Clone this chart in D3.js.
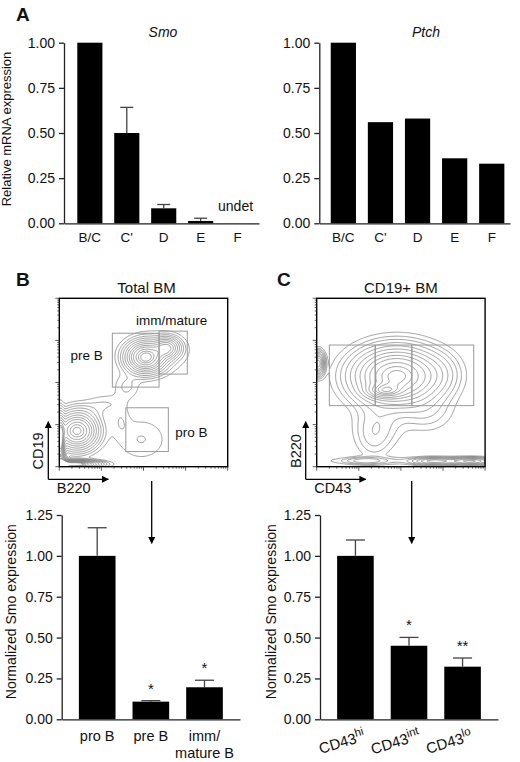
<!DOCTYPE html>
<html>
<head>
<meta charset="utf-8">
<title>Smo / Ptch expression in B cell subsets</title>
<script src="https://d3js.org/d3.v7.min.js"></script>
<style>
  body { margin: 0; background: #fff; }
  svg text { font-family: "Liberation Sans", Arial, Helvetica, sans-serif; fill: #111; }
</style>
</head>
<body>
<div id="figure"></div>
<script>
// ---- panel A: qPCR, Hardy fractions ----
const stages = ["B/C", "C'", "D", "E", "F"];
const smoValues = [1.0, 0.50, 0.083, 0.013, null];   // F = undetected
const smoErrors = [0, 0.142, 0.021, 0.015, null];
const ptchValues = [1.0, 0.56, 0.58, 0.36, 0.33];
const relTicks = [0, 0.25, 0.5, 0.75, 1.0];

// ---- panel B / C bottom: sorted populations ----
const bPops = ["pro B", "pre B", "imm/mature B"];
const bLabelLines = [["pro B"], ["pre B"], ["imm/", "mature B"]];
const bValues = [1.0, 0.108, 0.196];
const bErrors = [0.172, 0.006, 0.043];
const bStars = ["", "*", "*"];

const cPops = ["hi", "int", "lo"];
const cValues = [1.0, 0.45, 0.322];
const cErrors = [0.097, 0.051, 0.053];
const cStars = ["", "*", "**"];
const normTicks = [0, 0.25, 0.5, 0.75, 1.0, 1.25];

// ---- flow plots: populations as (log decade) centre / spread / weight ----
const bClusterX  = [0.42, 2.05, 2.55, 0.03, 0.35, 0.06, 0.6, 1.1, 1.6, 1.95, 1.45, 2.3];
const bClusterY  = [0.85, 2.60, 2.82, 0.60, 0.06, 0.06, 1.3, 1.5, 1.9, 0.65, 1.1, 2.7];
const bClusterSX = [0.27, 0.25, 0.18, 0.05, 0.33, 0.08, 0.3, 0.3, 0.2, 0.42, 0.15, 0.5];
const bClusterSY = [0.24, 0.20, 0.14, 0.35, 0.05, 0.08, 0.15, 0.15, 0.2, 0.35, 0.25, 0.32];
const bClusterW  = [1.0, 1.0, 0.55, 1.0, 1.2, 1.5, 0.04, 0.04, 0.05, 0.045, 0.035, 0.06];

const cClusterX  = [1.9, 1.6, 2.9, 1.45, 2.6, 1.35, 0.04, 1.15, 2.8, 3.65, 2.0];
const cClusterY  = [2.15, 1.8, 2.2, 1.0, 1.3, 0.65, 2.45, 0.14, 0.13, 0.13, 0.14];
const cClusterSX = [0.58, 0.25, 0.3, 0.35, 0.4, 0.25, 0.08, 0.3, 0.3, 0.3, 1.4];
const cClusterSY = [0.38, 0.1, 0.3, 0.35, 0.3, 0.3, 0.15, 0.05, 0.05, 0.05, 0.06];
const cClusterW  = [1.0, 0.5, 0.07, 0.08, 0.06, 0.05, 0.8, 0.12, 0.35, 0.45, 0.04];

const bLevels = [0.0228, 0.0439, 0.071, 0.110, 0.165, 0.236, 0.325, 0.43, 0.546, 0.697, 0.835, 0.94];
const cLevels = [0.0228, 0.0439, 0.071, 0.110, 0.165, 0.236, 0.325, 0.43, 0.546, 0.697, 0.835, 0.94, 1.06, 1.2, 1.35];

// gates, in decades [x0, x1, y0, y1]
const bGates = [[1.26, 2.37, 1.89, 3.17], [2.37, 3.04, 2.20, 3.22], [1.58, 2.59, 0.36, 1.40]];
const bGateNames = ["pre B", "imm/mature", "pro B"];
const bGateLabelPos = [[0.65, 2.53], [2.67, 3.37], [3.14, 0.71]];
const cGates = [[0.30, 1.39, 1.45, 2.89], [1.39, 2.26, 1.45, 2.89], [2.26, 3.73, 1.45, 2.89]];

const svg = d3.select("#figure").append("svg")
    .attr("width", 520)
    .attr("height", 762);

const AXIS = "#222";

svg.append("defs").append("marker")
    .attr("id", "head")
    .attr("viewBox", "0 0 10 10")
    .attr("refX", 9).attr("refY", 5)
    .attr("markerWidth", 7).attr("markerHeight", 7)
    .attr("markerUnits", "userSpaceOnUse")
    .attr("orient", "auto")
  .append("path")
    .attr("d", "M0,0 L10,5 L0,10 Z")
    .attr("fill", "#000");

function barPanel(opt) {
    const x = d3.scaleBand().domain(opt.cats).range(opt.xRange)
        .paddingInner(opt.padIn).paddingOuter(opt.padOut).align(opt.align);
    const y = d3.scaleLinear().domain(opt.yDomain).range(opt.yRange);
    const g = svg.append("g");

    const rows = opt.cats.map((c, i) => ({c, v: opt.values[i], e: opt.errors ? opt.errors[i] : null}))
        .filter(d => d.v != null);

    g.selectAll("rect.bar").data(rows).join("rect")
        .attr("class", "bar")
        .attr("x", d => x(d.c))
        .attr("width", x.bandwidth())
        .attr("y", d => y(d.v))
        .attr("height", d => y(0) - y(d.v))
        .attr("fill", "#000");

    // upper error bars only
    const eb = rows.filter(d => d.e);
    g.selectAll("line.err").data(eb).join("line")
        .attr("class", "err")
        .attr("x1", d => x(d.c) + x.bandwidth() / 2)
        .attr("x2", d => x(d.c) + x.bandwidth() / 2)
        .attr("y1", d => y(d.v))
        .attr("y2", d => y(d.v + d.e))
        .attr("stroke", "#444").attr("stroke-width", 1.3);
    g.selectAll("line.cap").data(eb).join("line")
        .attr("class", "cap")
        .attr("x1", d => x(d.c) + x.bandwidth() / 2 - opt.cap / 2)
        .attr("x2", d => x(d.c) + x.bandwidth() / 2 + opt.cap / 2)
        .attr("y1", d => y(d.v + d.e))
        .attr("y2", d => y(d.v + d.e))
        .attr("stroke", "#444").attr("stroke-width", 1.3);

    const ya = g.append("g")
        .attr("transform", `translate(${opt.xRange[0]},0)`)
        .call(d3.axisLeft(y).tickValues(opt.ticks).tickFormat(d3.format(".2f"))
            .tickSize(5).tickPadding(4).tickSizeOuter(0));
    ya.selectAll("path, line").attr("stroke", AXIS).attr("stroke-width", 1.3);
    ya.selectAll("text").style("font-size", "14px").attr("fill", "#111");

    const xa = g.append("g")
        .attr("transform", `translate(0,${opt.yRange[0]})`)
        .call(d3.axisBottom(x).tickSize(0).tickSizeOuter(0).tickFormat(() => ""));
    xa.select(".domain").attr("stroke", AXIS).attr("stroke-width", 1.3);

    return {x, y, g};
}

// ---------- panel A ----------
const smo = barPanel({cats: stages, values: smoValues, errors: smoErrors,
    xRange: [64, 259], padIn: 0.32, padOut: 0.3, align: 0.6,
    yDomain: [0, 1], yRange: [223.3, 42.7], ticks: relTicks, cap: 13});
const ptch = barPanel({cats: stages, values: ptchValues, errors: null,
    xRange: [319.3, 510], padIn: 0.32, padOut: 0.23, align: 0.67,
    yDomain: [0, 1], yRange: [223.3, 42.7], ticks: relTicks, cap: 13});

[smo, ptch].forEach(p => {
    p.g.selectAll("text.xl").data(stages).join("text")
        .attr("class", "xl")
        .attr("x", d => p.x(d) + p.x.bandwidth() / 2)
        .attr("y", 241.5)
        .attr("text-anchor", "middle")
        .style("font-size", "13.5px")
        .text(d => d);
});

smo.g.append("text")
    .attr("x", smo.x("F") + smo.x.bandwidth() / 2 - 2)
    .attr("y", 210.7)
    .attr("text-anchor", "middle")
    .style("font-size", "14px")
    .text("undet");

svg.append("text").attr("x", 163).attr("y", 36.5).attr("text-anchor", "middle")
    .style("font-size", "14px").style("font-style", "italic").text("Smo");
svg.append("text").attr("x", 426).attr("y", 36.5).attr("text-anchor", "middle")
    .style("font-size", "14px").style("font-style", "italic").text("Ptch");
svg.append("text")
    .attr("transform", "translate(11,129) rotate(-90)")
    .attr("text-anchor", "middle")
    .style("font-size", "13px")
    .text("Relative mRNA expression");

// panel letters
[["A", 16, 20.7], ["B", 16, 286], ["C", 277, 286]].forEach(([t, x, y]) => {
    svg.append("text").attr("x", x).attr("y", y)
        .style("font-size", "19px").style("font-weight", "bold").text(t);
});

// ---------- flow plots ----------
function flowPanel(opt) {
    const size = 168.4;
    const x = d3.scaleLinear().domain([0, 4]).range([opt.left, opt.left + size]);
    const y = d3.scaleLinear().domain([0, 4]).range([opt.bottom, opt.bottom - size]);
    const g = svg.append("g");

    const n = 160;
    const grid = new Float64Array(n * n);
    for (let j = 0; j < n; j++) {
        const dy = (j + 0.5) / n * 4;
        for (let i = 0; i < n; i++) {
            const dx = (i + 0.5) / n * 4;
            let s = 0;
            for (let k = 0; k < opt.cx.length; k++) {
                const u = (dx - opt.cx[k]) / opt.sx[k];
                const v = (dy - opt.cy[k]) / opt.sy[k];
                s += opt.w[k] * Math.exp(-0.5 * (u * u + v * v));
            }
            grid[j * n + i] = s;
        }
    }
    const contours = d3.contours().size([n, n]).thresholds(opt.levels)(grid);
    const proj = d3.geoTransform({
        point(px, py) { this.stream.point(x(px / n * 4), y(py / n * 4)); }
    });
    const path = d3.geoPath(proj);

    const clipId = "clip" + opt.id;
    svg.select("defs").append("clipPath").attr("id", clipId)
        .append("rect").attr("x", x(0)).attr("y", y(4)).attr("width", size).attr("height", size);

    g.append("g").attr("clip-path", `url(#${clipId})`)
      .selectAll("path").data(contours).join("path")
        .attr("d", path)
        .attr("fill", "none")
        .attr("stroke", "#7a7a7a")
        .attr("stroke-width", 0.7);

    g.selectAll("rect.gate").data(opt.gates).join("rect")
        .attr("class", "gate")
        .attr("x", d => x(d[0])).attr("width", d => x(d[1]) - x(d[0]))
        .attr("y", d => y(d[3])).attr("height", d => y(d[2]) - y(d[3]))
        .attr("fill", "none").attr("stroke", "#9a9a9a").attr("stroke-width", 1);

    g.append("rect")
        .attr("x", x(0)).attr("y", y(4)).attr("width", size).attr("height", size)
        .attr("fill", "none").attr("stroke", "#000").attr("stroke-width", 1.4);

    // log ticks, outward
    const tickVals = [];
    for (let d = 0; d < 4; d++) {
        tickVals.push({v: d, major: true});
        for (let m = 2; m <= 9; m++) tickVals.push({v: d + Math.log10(m), major: false});
    }
    tickVals.push({v: 4, major: true});
    g.selectAll("line.lt").data(tickVals).join("line")
        .attr("x1", x(0)).attr("x2", d => x(0) - (d.major ? 4 : 2))
        .attr("y1", d => y(d.v)).attr("y2", d => y(d.v))
        .attr("stroke", "#333").attr("stroke-width", 0.8);
    g.selectAll("line.bt").data(tickVals).join("line")
        .attr("y1", y(0)).attr("y2", d => y(0) + (d.major ? 4 : 2))
        .attr("x1", d => x(d.v)).attr("x2", d => x(d.v))
        .attr("stroke", "#333").attr("stroke-width", 0.8);

    // axis arrows
    const ax = x(0) - 11;
    g.append("line").attr("x1", ax).attr("y1", 479.3).attr("x2", ax).attr("y2", 421.7)
        .attr("stroke", "#000").attr("stroke-width", 1.3).attr("marker-end", "url(#head)");
    g.append("line").attr("x1", ax).attr("y1", 479.3).attr("x2", ax + 60).attr("y2", 479.3)
        .attr("stroke", "#000").attr("stroke-width", 1.3).attr("marker-end", "url(#head)");
    g.append("text").attr("transform", `translate(${ax - 5},451) rotate(-90)`)
        .attr("text-anchor", "middle").style("font-size", "14.5px").text(opt.yLabel);
    g.append("text").attr("x", ax + 8.5).attr("y", 493.3)
        .style("font-size", "14.5px").text(opt.xLabel);

    g.append("text").attr("x", x(2) + opt.titleDx).attr("y", 292.5).attr("text-anchor", "middle")
        .style("font-size", "15px").text(opt.title);
    return {x, y, g};
}

const flowB = flowPanel({id: "B", left: 59.3, bottom: 466.7,
    cx: bClusterX, cy: bClusterY, sx: bClusterSX, sy: bClusterSY, w: bClusterW,
    levels: bLevels, gates: bGates, title: "Total BM", titleDx: 3,
    yLabel: "CD19", xLabel: "B220"});
flowB.g.selectAll("text.gl").data(bGateNames).join("text")
    .attr("class", "gl")
    .attr("x", (d, i) => flowB.x(bGateLabelPos[i][0]))
    .attr("y", (d, i) => flowB.y(bGateLabelPos[i][1]))
    .attr("text-anchor", "middle")
    .style("font-size", "13.5px")
    .text(d => d);

const flowC = flowPanel({id: "C", left: 316.7, bottom: 466.7,
    cx: cClusterX, cy: cClusterY, sx: cClusterSX, sy: cClusterSY, w: cClusterW,
    levels: cLevels, gates: cGates, title: "CD19+ BM", titleDx: 0,
    yLabel: "B220", xLabel: "CD43"});

// arrows between flow plots and bar charts
[151.7, 411.7].forEach(ax => {
    svg.append("line").attr("x1", ax).attr("y1", 481).attr("x2", ax).attr("y2", 543.3)
        .attr("stroke", "#000").attr("stroke-width", 1.3).attr("marker-end", "url(#head)");
});

// ---------- bottom bar charts ----------
const barB = barPanel({cats: bPops, values: bValues, errors: bErrors,
    xRange: [61.7, 240], padIn: 0.317, padOut: 0.32, align: 0.5,
    yDomain: [0, 1.25], yRange: [719.3, 515], ticks: normTicks, cap: 19});
const barC = barPanel({cats: cPops, values: cValues, errors: cErrors,
    xRange: [320, 498], padIn: 0.317, padOut: 0.32, align: 0.5,
    yDomain: [0, 1.25], yRange: [719.3, 515], ticks: normTicks, cap: 19});

[[barB, bPops, bValues, bErrors, bStars], [barC, cPops, cValues, cErrors, cStars]].forEach(([p, cats, vals, errs, stars]) => {
    p.g.selectAll("text.star").data(cats).join("text")
        .attr("class", "star")
        .attr("x", d => p.x(d) + p.x.bandwidth() / 2)
        .attr("y", (d, i) => p.y(vals[i] + errs[i]) - 7)
        .attr("text-anchor", "middle")
        .style("font-size", "15px")
        .text((d, i) => stars[i]);
});

barB.g.selectAll("text.xl").data(bPops).join("text")
    .attr("class", "xl")
    .attr("x", d => barB.x(d) + barB.x.bandwidth() / 2)
    .attr("y", 740.7)
    .attr("text-anchor", "middle")
    .style("font-size", "14.5px")
    .each(function(d, i) {
        d3.select(this).selectAll("tspan").data(bLabelLines[i]).join("tspan")
            .attr("x", barB.x(d) + barB.x.bandwidth() / 2)
            .attr("dy", (t, k) => k === 0 ? 0 : 17.6)
            .text(t => t);
    });

barC.g.selectAll("text.xl").data(cPops).join("text")
    .attr("class", "xl")
    .attr("transform", d => `translate(${barC.x(d) + barC.x.bandwidth() / 2 - 12},747) rotate(-17)`)
    .attr("text-anchor", "middle")
    .style("font-size", "15px")
    .each(function(d) {
        const t = d3.select(this);
        t.append("tspan").text("CD43");
        t.append("tspan").attr("dy", -6).style("font-size", "11.5px").text(d);
    });

[16, 276.2].forEach(lx => {
    svg.append("text")
        .attr("transform", `translate(${lx},611.7) rotate(-90)`)
        .attr("text-anchor", "middle")
        .style("font-size", "14px")
        .text("Normalized Smo expression");
});
</script>
</body>
</html>
